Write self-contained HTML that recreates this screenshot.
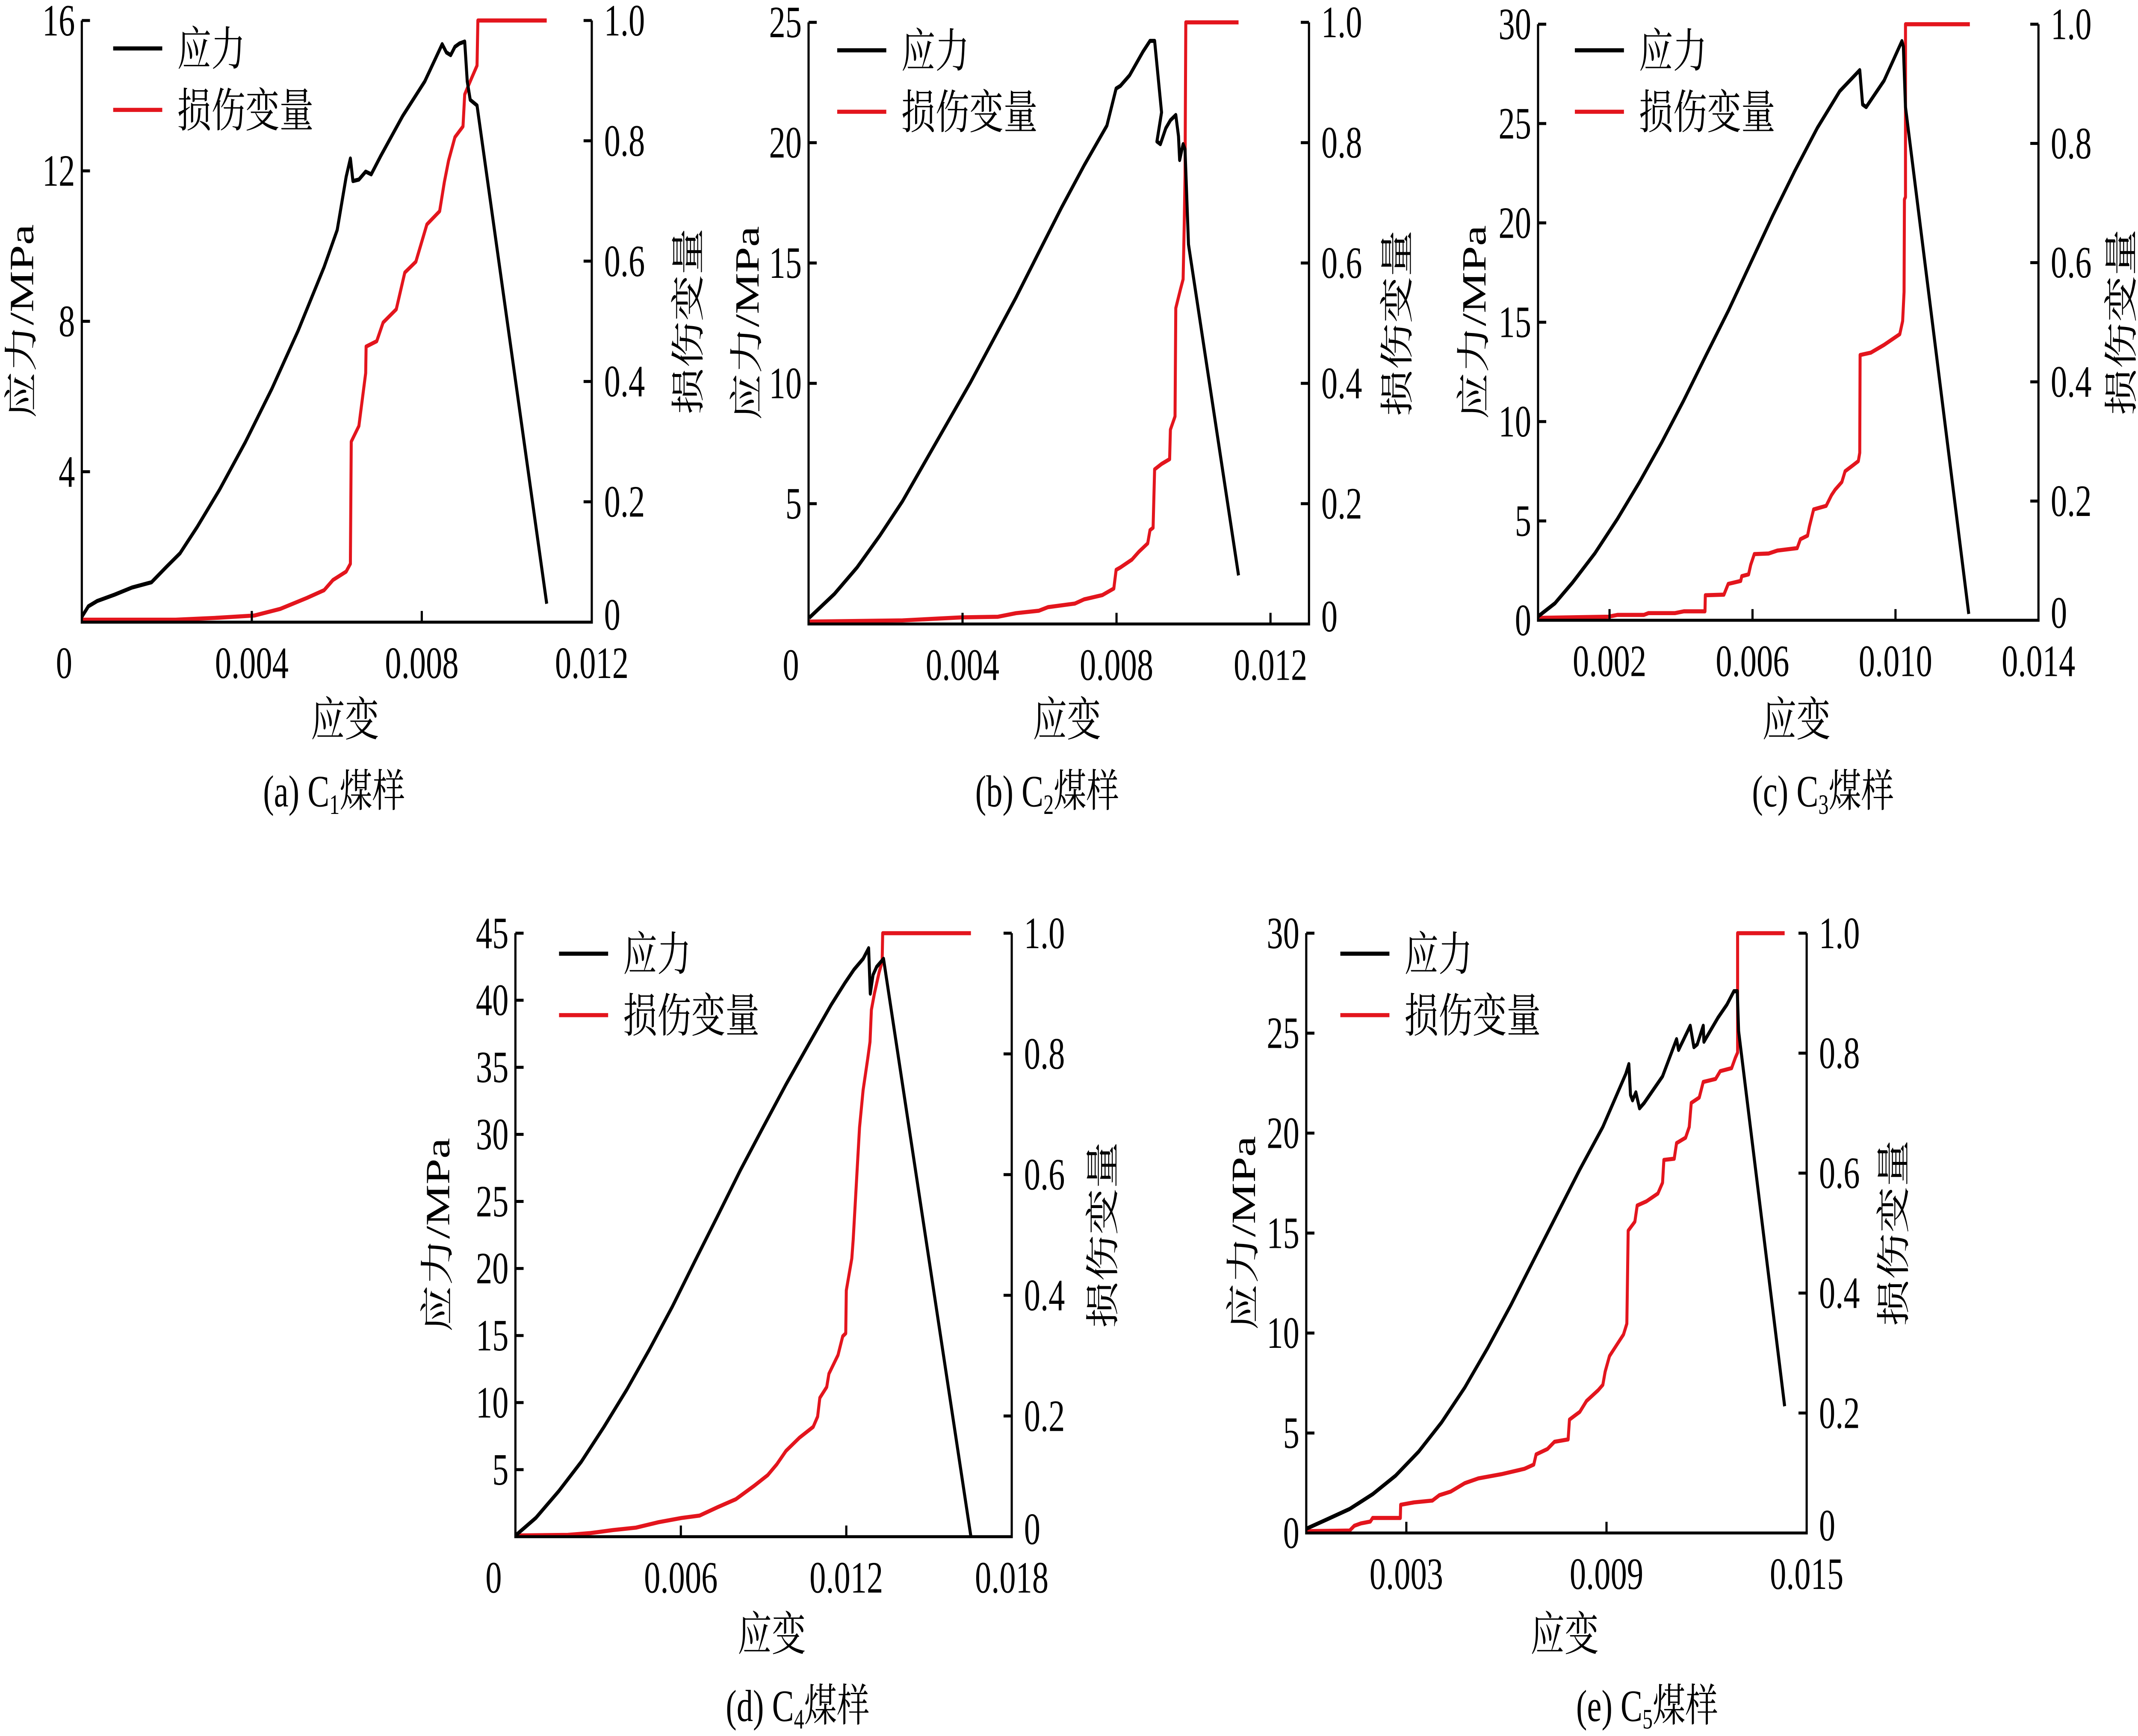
<!DOCTYPE html>
<html><head><meta charset="utf-8">
<style>
html,body{margin:0;padding:0;background:#fff;width:100%;height:100%;overflow:hidden;}
svg{display:block;position:fixed;left:0;top:0;width:100vw;height:100vh;}
svg text{font-family:"Liberation Serif","Times New Roman","Noto Serif CJK SC","Noto Sans CJK SC",serif;fill:#000;}
</style></head>
<body>
<svg id="fig" xmlns="http://www.w3.org/2000/svg" viewBox="0 0 1568 932" preserveAspectRatio="none"></svg>
<script>
// ---- Panel (a) C1 ----
const aStrainS = [0,0.000154,0.00036,0.00077,0.00118,0.00164,0.0020,0.00231,0.00272,0.00324,0.00385,0.00447,0.00509,0.0057,0.00601,0.00622,0.00632,0.00638,0.00652,0.00668,0.00681,0.00704,0.00755,0.00807,0.00848,0.00858,0.00868,0.00878,0.00889,0.00901,0.00907,0.00914,0.0093,0.01094];
const aStress = [0.14,0.42,0.56,0.73,0.92,1.06,1.48,1.83,2.54,3.52,4.79,6.20,7.75,9.44,10.43,11.84,12.33,11.73,11.77,11.98,11.91,12.41,13.46,14.38,15.37,15.15,15.08,15.30,15.39,15.44,14.38,13.89,13.74,0.49];
const aStrainD = [0,0.00221,0.00313,0.00406,0.00467,0.00529,0.0057,0.00591,0.00622,0.00632,0.00634,0.00652,0.0066,0.00668,0.00669,0.00694,0.00709,0.0074,0.0076,0.00786,0.00812,0.00842,0.00853,0.00863,0.00878,0.00897,0.00901,0.00914,0.0093,0.00932,0.01094];
const aDamage = [0.004,0.004,0.007,0.011,0.022,0.040,0.053,0.070,0.084,0.097,0.30,0.326,0.37,0.414,0.458,0.467,0.498,0.52,0.581,0.599,0.661,0.683,0.731,0.767,0.806,0.824,0.877,0.899,0.925,1.0,1.0];
const aXTicks = [0.004,0.008];
const aXLabels = ["0","0.004","0.008","0.012"];
const aXLabelVals = [0,0.004,0.008,0.012];
const aYTicks = [4,8,12,16];

// ---- Panel (b) C2 ----
const bStrainS = [0.00002,0.000672,0.00126,0.00185,0.00244,0.00303,0.00362,0.00421,0.0048,0.00539,0.00598,0.00657,0.00716,0.00775,0.00799,0.0081,0.00834,0.00869,0.00887,0.00899,0.00917,0.00905,0.00914,0.00928,0.0094,0.00954,0.00961,0.00964,0.00973,0.00978,0.00987,0.01117];
const bStress = [0.26,1.25,2.35,3.67,5.10,6.75,8.40,10.05,11.81,13.57,15.44,17.30,19.06,20.71,22.25,22.36,22.80,23.79,24.23,24.23,21.26,20.05,19.94,20.60,20.93,21.15,20.27,19.28,19.94,19.72,15.77,2.02];
const bStrainD = [0.00002,0.00244,0.00398,0.00492,0.00539,0.00598,0.00622,0.00692,0.00716,0.00763,0.00793,0.00799,0.0081,0.0084,0.00858,0.00881,0.00887,0.00895,0.00899,0.00917,0.00938,0.0094,0.00952,0.00954,0.00966,0.00973,0.00976,0.00978,0.0098,0.01117];
const bDamage = [0.004,0.006,0.011,0.012,0.018,0.022,0.028,0.034,0.041,0.048,0.059,0.090,0.094,0.107,0.120,0.134,0.156,0.160,0.257,0.266,0.274,0.323,0.345,0.525,0.556,0.573,0.666,0.745,1.0,1.0];
const bXTicks = [0.004,0.008,0.012];
const bXLabels = ["0","0.004","0.008","0.012"];
const bXLabelVals = [0,0.004,0.008,0.012];
const bYTicks = [5,10,15,20,25];

// ---- Panel (c) C3 ----
const cStrainS = [0,0.00047,0.00097,0.00159,0.00222,0.00284,0.00346,0.00408,0.0047,0.00533,0.00595,0.00657,0.00719,0.00781,0.00844,0.009,0.00908,0.00918,0.00968,0.01018,0.01022,0.01028,0.01205];
const cStress = [0.19,0.85,1.91,3.37,5.10,6.96,8.95,11.08,13.34,15.60,17.99,20.38,22.64,24.77,26.63,27.69,25.96,25.83,27.16,29.15,28.88,25.83,0.32];
const cStrainD = [0,0.00197,0.00222,0.00296,0.00309,0.00383,0.00408,0.00467,0.00468,0.0052,0.00532,0.00567,0.0057,0.00589,0.00595,0.00605,0.00645,0.0067,0.00725,0.00734,0.00754,0.00759,0.00771,0.00806,0.00821,0.00831,0.0085,0.00859,0.00881,0.00896,0.009,0.00901,0.00931,0.00968,0.01012,0.0102,0.01024,0.01025,0.01028,0.01028,0.01208];
const cDamage = [0.004,0.006,0.009,0.009,0.012,0.012,0.015,0.015,0.042,0.043,0.061,0.066,0.074,0.077,0.093,0.111,0.112,0.117,0.121,0.136,0.142,0.157,0.186,0.192,0.210,0.219,0.232,0.250,0.260,0.267,0.281,0.445,0.449,0.462,0.480,0.502,0.551,0.706,0.710,1.0,1.0];
const cXTicks = [0.002,0.006,0.010];
const cXLabels = ["0.002","0.006","0.010","0.014"];
const cXLabelVals = [0.002,0.006,0.010,0.014];
const cYTicks = [0,5,10,15,20,25,30];

// ---- Panel (d) C4 ----
const dStrainS = [0,0.00074,0.00157,0.00239,0.00321,0.00404,0.00486,0.00569,0.00651,0.00734,0.00816,0.00898,0.00981,0.01063,0.01146,0.01195,0.01228,0.01261,0.01281,0.01287,0.01297,0.0131,0.01335,0.01652];
const dStress = [0.08,1.40,3.39,5.59,8.18,10.97,13.96,17.15,20.55,23.94,27.33,30.52,33.71,36.70,39.69,41.29,42.29,43.09,43.88,40.49,41.89,42.49,43.09,0];
const dStrainD = [0,0.0019,0.00272,0.00354,0.00437,0.00519,0.00602,0.00668,0.00734,0.00799,0.00865,0.00915,0.00948,0.00981,0.0103,0.0108,0.01096,0.01104,0.01129,0.01137,0.0117,0.01187,0.01198,0.012,0.0122,0.01225,0.01236,0.01248,0.01261,0.01278,0.01286,0.01291,0.01302,0.01319,0.0133,0.01332,0.01652];
const dDamage = [0.002,0.003,0.006,0.011,0.015,0.024,0.031,0.035,0.049,0.062,0.084,0.102,0.120,0.142,0.164,0.182,0.199,0.230,0.248,0.270,0.301,0.332,0.337,0.408,0.461,0.492,0.581,0.678,0.740,0.793,0.820,0.873,0.900,0.935,0.953,1.0,1.0];
const dXTicks = [0.006,0.012];
const dXLabels = ["0","0.006","0.012","0.018"];
const dXLabelVals = [0,0.006,0.012,0.018];
const dYTicks = [5,10,15,20,25,30,35,40,45];

// ---- Panel (e) C5 ----
const eStrainS = [0,0.00061,0.0013,0.00199,0.00268,0.00337,0.00406,0.00475,0.00544,0.00613,0.00682,0.00751,0.0082,0.00889,0.00958,0.00967,0.00972,0.00978,0.00988,0.00999,0.01013,0.01068,0.0111,0.01116,0.01151,0.01162,0.01172,0.0119,0.01192,0.01234,0.01261,0.01282,0.01292,0.01296,0.01434];
const eStress = [0.21,0.67,1.20,1.94,2.87,4.07,5.54,7.27,9.26,11.39,13.66,15.92,18.18,20.31,22.97,23.45,21.91,21.64,22.04,21.24,21.51,22.84,24.70,24.16,25.37,24.30,24.44,25.37,24.57,25.77,26.43,27.10,27.10,25.10,6.34];
const eStrainD = [0,0.0013,0.00144,0.00164,0.00192,0.00199,0.00282,0.00283,0.00323,0.00378,0.00399,0.00433,0.00475,0.00516,0.00585,0.00654,0.00682,0.00689,0.00723,0.00744,0.00785,0.00789,0.0082,0.0084,0.00875,0.00889,0.00896,0.00909,0.0093,0.00951,0.00961,0.00965,0.00985,0.00992,0.0102,0.01054,0.01068,0.01072,0.01103,0.0111,0.01137,0.01148,0.01154,0.01178,0.0119,0.01227,0.01241,0.01275,0.01286,0.01293,0.01293,0.01434];
const eDamage = [0.003,0.004,0.012,0.016,0.019,0.025,0.025,0.047,0.051,0.054,0.063,0.069,0.083,0.091,0.098,0.107,0.114,0.131,0.140,0.152,0.156,0.189,0.202,0.220,0.238,0.247,0.269,0.295,0.313,0.331,0.349,0.504,0.519,0.546,0.553,0.566,0.584,0.622,0.624,0.650,0.659,0.677,0.717,0.726,0.752,0.757,0.770,0.775,0.792,0.801,1.0,1.0];
const eXTicks = [0.003,0.009];
const eXLabels = ["0.003","0.009","0.015"];
const eXLabelVals = [0.003,0.009,0.015];
const eYTicks = [0,5,10,15,20,25,30];

const dmgTicks = [0,0.2,0.4,0.6,0.8,1.0];
const dmgLabels = ["0","0.2","0.4","0.6","0.8","1.0"];

const NS = "http://www.w3.org/2000/svg";
const svg = document.getElementById('fig');
const FONT = '"Liberation Serif","Noto Serif CJK SC","Noto Sans CJK SC",serif';
function mk(tag, attrs, parent) {
  const el = document.createElementNS(NS, tag);
  for (const k in attrs) el.setAttribute(k, attrs[k]);
  if (tag === 'text') el.setAttribute('font-family', FONT);
  (parent || svg).appendChild(el);
  return el;
}

const panels = [
  {id:'a', L:60, R:434, T:11, B:334, xMax:0.012, yMax:16, sx:aStrainS, sy:aStress, dx:aStrainD, dy:aDamage, xt:aXTicks, xl:aXLabels, xlv:aXLabelVals, yt:aYTicks,
   legX:83, legY:26, yTitleX:16, rTitleX:505, xTitleY:387, cap:['(a)  C','1','煤样'], capX:245, capY:425, zeroLabelX:47},
  {id:'b', L:593, R:960, T:12, B:335, xMax:0.013, yMax:25, sx:bStrainS, sy:bStress, dx:bStrainD, dy:bDamage, xt:bXTicks, xl:bXLabels, xlv:bXLabelVals, yt:bYTicks,
   legX:614, legY:27, yTitleX:548, rTitleX:1025, xTitleY:387, cap:['(b)  C','2','煤样'], capX:768, capY:425, zeroLabelX:580},
  {id:'c', L:1128, R:1495, T:13, B:333, xMax:0.014, yMax:30, sx:cStrainS, sy:cStress, dx:cStrainD, dy:cDamage, xt:cXTicks, xl:cXLabels, xlv:cXLabelVals, yt:cYTicks,
   legX:1155, legY:27, yTitleX:1081, rTitleX:1556, xTitleY:387, cap:['(c)  C','3','煤样'], capX:1337, capY:425, zeroLabelX:null},
  {id:'d', L:378, R:742, T:501, B:825, xMax:0.018, yMax:45, sx:dStrainS, sy:dStress, dx:dStrainD, dy:dDamage, xt:dXTicks, xl:dXLabels, xlv:dXLabelVals, yt:dYTicks,
   legX:410, legY:512, yTitleX:321, rTitleX:809, xTitleY:878, cap:['(d)  C','4','煤样'], capX:585, capY:916, zeroLabelX:362},
  {id:'e', L:958, R:1325, T:501, B:823, xMax:0.015, yMax:30, sx:eStrainS, sy:eStress, dx:eStrainD, dy:eDamage, xt:eXTicks, xl:eXLabels, xlv:eXLabelVals, yt:eYTicks,
   legX:983, legY:512, yTitleX:912, rTitleX:1389, xTitleY:878, cap:['(e)  C','5','煤样'], capX:1208, capY:916, zeroLabelX:null}
];

panels.forEach(p => {
  const g = mk('g', {});
  
  
  const X = v => p.L + (v / p.xMax) * (p.R - p.L);
  const Y = v => p.B - (v / p.yMax) * (p.B - p.T);
  const YD = v => p.B - v * (p.B - p.T);

  const sPts = p.sx.map((v, i) => X(v).toFixed(2) + ',' + Y(p.sy[i]).toFixed(2)).join(' ');
  const dPts = p.dx.map((v, i) => X(v).toFixed(2) + ',' + YD(p.dy[i]).toFixed(2)).join(' ');
  const dl = mk('polyline', {points:dPts, fill:'none', stroke:'#e3151d', 'stroke-width':2.2, 'stroke-linejoin':'round'}, g);
  
  
  const sl = mk('polyline', {points:sPts, fill:'none', stroke:'#000', 'stroke-width':2.2, 'stroke-linejoin':'round'}, g);
  
  

  const ax = mk('path', {d:`M${p.L},${p.T} L${p.L},${p.B} L${p.R},${p.B} L${p.R},${p.T}`, fill:'none', stroke:'#000', 'stroke-width':1.6}, g);
  
  

  p.yt.forEach(v => {
    const y = Y(v);
    if (v > 0) mk('line', {x1:p.L, x2:p.L + 6, y1:y, y2:y, stroke:'#000', 'stroke-width':1.6}, g);
    const t = mk('text', {x:p.L - 5, y:y + 8, 'text-anchor':'end', 'font-size':24}, g);
    t.textContent = String(v);
    
    
  });
  dmgTicks.forEach((v, i) => {
    const y = YD(v);
    if (v > 0) mk('line', {x1:p.R, x2:p.R - 6, y1:y, y2:y, stroke:'#000', 'stroke-width':1.6}, g);
    const t = mk('text', {x:p.R + 9, y:(v === 0 ? y + 4 : y + 8), 'text-anchor':'start', 'font-size':24}, g);
    t.textContent = dmgLabels[i];
    
    
  });
  p.xt.forEach(v => {
    const x = X(v);
    mk('line', {x1:x, x2:x, y1:p.B, y2:p.B - 6, stroke:'#000', 'stroke-width':1.6}, g);
  });
  p.xl.forEach((lab, i) => {
    const v = p.xlv[i];
    const x = (v === 0 && p.zeroLabelX !== null) ? p.zeroLabelX : X(v);
    const t = mk('text', {x:x, y:p.B + 30, 'text-anchor':'middle', 'font-size':24}, g);
    t.textContent = lab;
    
    
  });

  const cy = (p.T + p.B) / 2;
  const yt = mk('text', {x:p.yTitleX, y:cy, 'text-anchor':'middle', 'font-size':25, transform:`rotate(-90 ${p.yTitleX} ${cy})`, 'dominant-baseline':'central'}, g);
  yt.textContent = '应力/MPa';
  
  
  const rt = mk('text', {x:p.rTitleX, y:cy, 'text-anchor':'middle', 'font-size':25, transform:`rotate(-90 ${p.rTitleX} ${cy})`, 'dominant-baseline':'central'}, g);
  rt.textContent = '损伤变量';
  
  
  const xt = mk('text', {x:(p.L + p.R) / 2 + 6, y:p.xTitleY + 8, 'text-anchor':'middle', 'font-size':25}, g);
  xt.textContent = '应变';
  
  

  const cap = mk('text', {x:p.capX, y:p.capY + 8, 'text-anchor':'middle', 'font-size':24}, g);
  
  
  const s1 = mk('tspan', {}, cap); s1.textContent = p.cap[0];
  const s2 = mk('tspan', {'font-size':15, dy:4}, cap); s2.textContent = p.cap[1];
  const s3 = mk('tspan', {dy:-4}, cap); s3.textContent = p.cap[2];

  const lg = mk('g', {}, g);
  
  
  mk('line', {x1:p.legX, x2:p.legX + 36, y1:p.legY, y2:p.legY, stroke:'#000', 'stroke-width':2.2}, lg);
  const l1 = mk('text', {x:p.legX + 47, y:p.legY + 9, 'font-size':25}, lg);
  l1.textContent = '应力';
  
  
  mk('line', {x1:p.legX, x2:p.legX + 36, y1:p.legY + 33, y2:p.legY + 33, stroke:'#e3151d', 'stroke-width':2.2}, lg);
  const l2 = mk('text', {x:p.legX + 47, y:p.legY + 42, 'font-size':25}, lg);
  l2.textContent = '损伤变量';
  
  
});
</script>
</body></html>
